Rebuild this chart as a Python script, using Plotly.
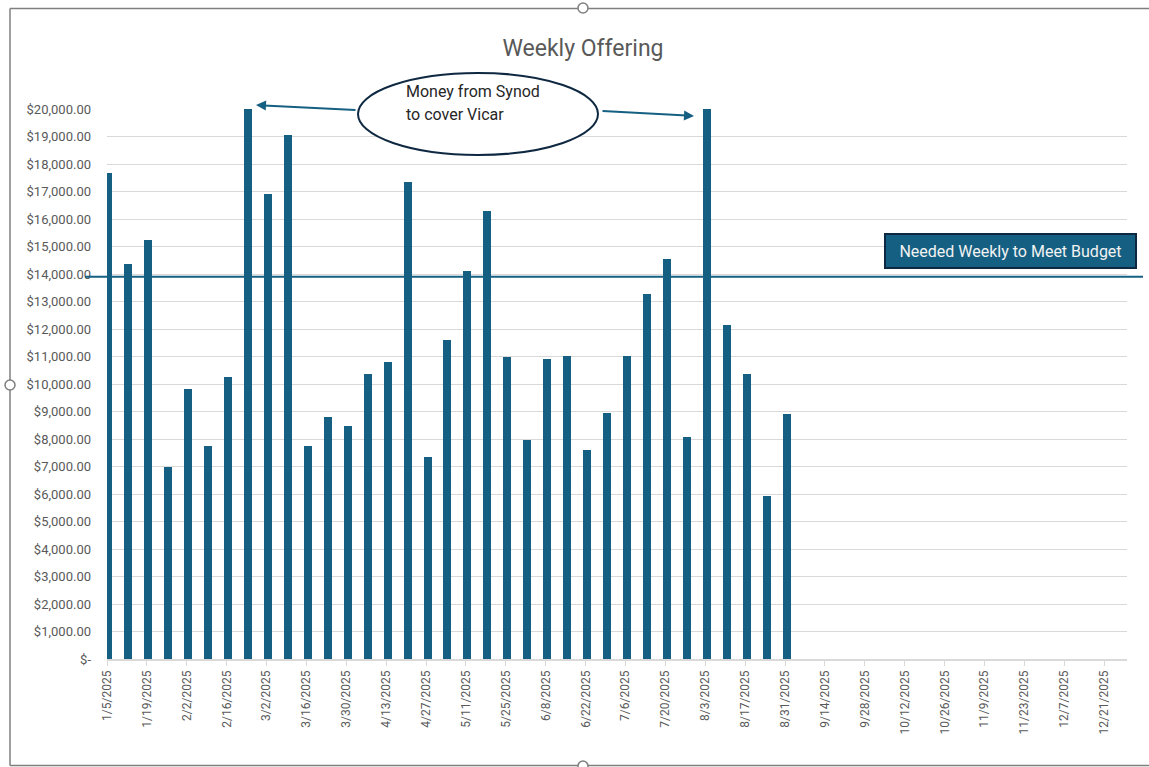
import plotly.graph_objects as go

# ---------------- data ----------------
week_dates = [
    "2025-01-05", "2025-01-12", "2025-01-19", "2025-01-26", "2025-02-02", "2025-02-09",
    "2025-02-16", "2025-02-23", "2025-03-02", "2025-03-09", "2025-03-16", "2025-03-23",
    "2025-03-30", "2025-04-06", "2025-04-13", "2025-04-20", "2025-04-27", "2025-05-04",
    "2025-05-11", "2025-05-18", "2025-05-25", "2025-06-01", "2025-06-08", "2025-06-15",
    "2025-06-22", "2025-06-29", "2025-07-06", "2025-07-13", "2025-07-20", "2025-07-27",
    "2025-08-03", "2025-08-10", "2025-08-17", "2025-08-24", "2025-08-31",
]
offering = [
    17680, 14350, 15220, 6990, 9810, 7760,
    10270, 20000, 16920, 19070, 7760, 8800,
    8460, 10360, 10790, 17360, 7330, 11600,
    14120, 16300, 10980, 7950, 10900, 11030,
    7610, 8950, 11030, 13260, 14550, 8070,
    20000, 12160, 10360, 5940, 8900,
]
budget_needed = 13900
y_tick_values = list(range(0, 20001, 1000))
y_tick_labels = ["$-"] + ["${:,.2f}".format(v) for v in y_tick_values[1:]]
x_range = ["2025-01-05", "2025-12-29"]

title_text = "Weekly Offering"
callout_lines = ["Money from Synod", "to cover Vicar"]
budget_label = "Needed Weekly to Meet Budget"

# ---------------- style ----------------
BAR = "#156082"
DARK = "#0E2841"
GRID = "#d9d9d9"
TXT = "#595959"
FRAME = "#7f7f7f"
FONT = "Roboto, Lato, 'DejaVu Sans', sans-serif"
DAY = 86400000

# body margin is removed by post_script, so page pixels == figure pixels
W, H = 1149, 767
PL, PR, PT, PB = 107, 1127, 109, 659  # plot area in page pixels
L, T = PL, PT
R = W - PR
B = H - PB
PW = PR - PL
PH = PB - PT


def px(x):
    return (x - PL) / PW


def py(y):
    return (PB - y) / PH


fig = go.Figure()
fig.add_trace(go.Bar(
    x=week_dates,
    y=offering,
    marker=dict(color=BAR, line=dict(width=0)),
    width=2.8 * DAY,
    offset=-0.9 * DAY,
    hoverinfo="x+y",
))

frame_line = dict(color=FRAME, width=1.5)
shapes = [
    # budget line
    dict(type="line", xref="paper", yref="y", x0=px(85), x1=px(1143),
         y0=budget_needed, y1=budget_needed, line=dict(color=BAR, width=2)),
    # callout ellipse
    dict(type="circle", xref="paper", yref="paper", x0=px(358), x1=px(598),
         y0=py(155), y1=py(73), line=dict(color=DARK, width=2), fillcolor="white",
         layer="above"),
    # chart frame (top, left, bottom)
    dict(type="line", xref="paper", yref="paper", x0=px(10), x1=px(1170),
         y0=py(8.5), y1=py(8.5), line=frame_line, layer="below"),
    dict(type="line", xref="paper", yref="paper", x0=px(10), x1=px(10),
         y0=py(8.5), y1=py(765.5), line=frame_line, layer="below"),
    dict(type="line", xref="paper", yref="paper", x0=px(10), x1=px(1170),
         y0=py(765.5), y1=py(765.5), line=frame_line, layer="below"),
]
for cx, cy in [(583, 8), (583, 766), (10, 385)]:
    shapes.append(dict(type="circle", xref="paper", yref="paper",
                       x0=px(cx - 5), x1=px(cx + 5), y0=py(cy + 5), y1=py(cy - 5),
                       line=dict(color=FRAME, width=1.5), fillcolor="white"))

annotations = [
    dict(text=callout_lines[0], xref="paper", yref="paper", x=px(404), y=py(92),
         xanchor="left", yanchor="middle", showarrow=False,
         font=dict(family=FONT, size=16, color="#262626")),
    dict(text=callout_lines[1], xref="paper", yref="paper", x=px(404), y=py(115),
         xanchor="left", yanchor="middle", showarrow=False,
         font=dict(family=FONT, size=16, color="#262626")),
    # arrows
    dict(text="", xref="paper", yref="paper", x=px(256), y=py(105),
         ax=101, ay=5, showarrow=True, arrowhead=2, arrowsize=1, arrowwidth=2,
         arrowcolor=BAR),
    dict(text="", xref="paper", yref="paper", x=px(694), y=py(116),
         ax=-93, ay=-5, showarrow=True, arrowhead=2, arrowsize=1, arrowwidth=2,
         arrowcolor=BAR),
    # budget label box
    dict(text=budget_label, xref="paper", yref="paper", x=px(1010.5), y=py(251.5),
         xanchor="center", yanchor="middle", showarrow=False, width=247, height=30,
         bgcolor=BAR, bordercolor=DARK, borderwidth=2, borderpad=1,
         font=dict(family=FONT, size=16, color="#f2f2f2")),
]

fig.update_layout(
    width=W, height=H,
    margin=dict(l=L, r=R, t=T, b=B, autoexpand=False),
    paper_bgcolor="white", plot_bgcolor="white",
    showlegend=False,
    title=dict(text=title_text, x=px(583), y=1 - 48 / H, xanchor="center",
               yanchor="middle", xref="paper", yref="container",
               font=dict(family=FONT, size=23, color=TXT)),
    bargap=0,
    shapes=shapes,
    annotations=annotations,
    xaxis=dict(
        type="date", range=x_range, tick0="2025-01-05", dtick=14 * DAY,
        tickformat="%-m/%-d/%Y", tickangle=-90, showgrid=False,
        showline=True, linecolor=GRID, linewidth=1.5, ticks="outside", ticklen=5,
        tickcolor=GRID, tickfont=dict(family=FONT, size=12, color=TXT),
        fixedrange=True,
    ),
    yaxis=dict(
        range=[0, 20000], tickmode="array", tickvals=y_tick_values,
        ticktext=y_tick_labels, showgrid=True, gridcolor=GRID, gridwidth=1,
        zeroline=False, showline=False, ticks="", ticklabelstandoff=15,
        tickfont=dict(family=FONT, size=13, color=TXT), fixedrange=True,
    ),
)

fig.write_html(
    "out.html",
    config={"displayModeBar": False},
    post_script="document.body.style.margin='0';document.body.style.overflow='hidden';",
)
